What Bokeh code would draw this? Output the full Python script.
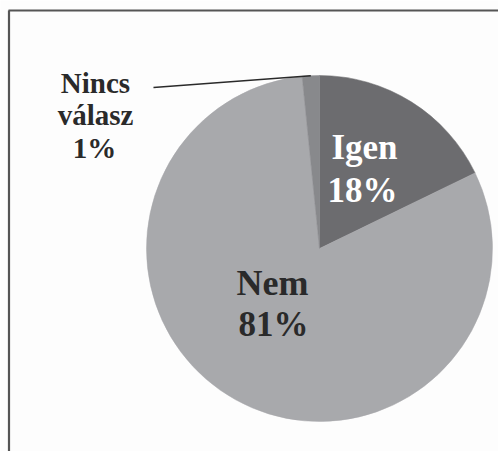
import math
from bokeh.plotting import figure
from bokeh.models import Range1d
from bokeh.core.properties import value
from bokeh.embed import file_html
from bokeh.resources import INLINE

# ---- data ----
categories = ["Igen", "Nem", "Nincs válasz"]
shares = [17.8, 80.6, 1.6]
pct_labels = ["18%", "81%", "1%"]
colors = ["#6c6c6f", "#a8a9ac", "#88898c"]

# ---- layout (pixels inside the figure) ----
W, H = 498, 451
def fx(sx):
    return sx
def fy(sy):
    return H - sy

cx, cy, R = fx(319), fy(248), 173

p = figure(width=W, height=H, x_range=Range1d(0, W), y_range=Range1d(0, H),
           output_backend="svg", toolbar_location=None, min_border=0)
p.axis.visible = False
p.grid.visible = False
p.outline_line_color = None
p.background_fill_color = "#fdfdfd"
p.border_fill_color = "#fdfdfd"

# frame lines (top and left)
p.segment(x0=[fx(8), fx(8.5)], y0=[fy(10), fy(10)], x1=[W, fx(8.5)], y1=[fy(10), 0],
          line_color="#555555", line_width=2.2)

# wedges, clockwise from 12 o'clock
start = 90.0
starts, ends, mids = [], [], []
for s in shares:
    a = s * 3.6
    starts.append(math.radians(start))
    ends.append(math.radians(start - a))
    mids.append(math.radians(start - a / 2))
    start -= a

p.wedge(x=[cx] * 3, y=[cy] * 3, radius=R, start_angle=starts, end_angle=ends,
        direction="clock", fill_color=colors, line_color=colors, line_width=0.5)

font = value("Liberation Serif")

# leader line for Nincs válasz
mx = cx + R * math.cos(mids[2])
my = cy + R * math.sin(mids[2])
p.line(x=[fx(153), mx], y=[fy(87), my], line_color="#2a2a2a", line_width=1.6)

# labels
def lab(x, y, t, size, color):
    p.text(x=[x], y=[y], text=[t], text_font=font, text_font_style="bold",
           text_font_size=size, text_color=color, text_align="center",
           text_baseline="alphabetic")

lab(fx(364), fy(147), categories[0], "35px", "#ffffff")
lab(fx(362), fy(190), pct_labels[0], "35px", "#ffffff")
lab(fx(272), fy(282), categories[1], "36px", "#2a2a2a")
lab(fx(273), fy(324), pct_labels[1], "35px", "#2a2a2a")
w1, w2 = categories[2].split(" ")
lab(fx(95), fy(82), w1, "29px", "#2a2a2a")
lab(fx(95), fy(114), w2, "29px", "#2a2a2a")
lab(fx(94), fy(147), pct_labels[2], "29px", "#2a2a2a")

open("out.html", "w").write(file_html(p, INLINE))
